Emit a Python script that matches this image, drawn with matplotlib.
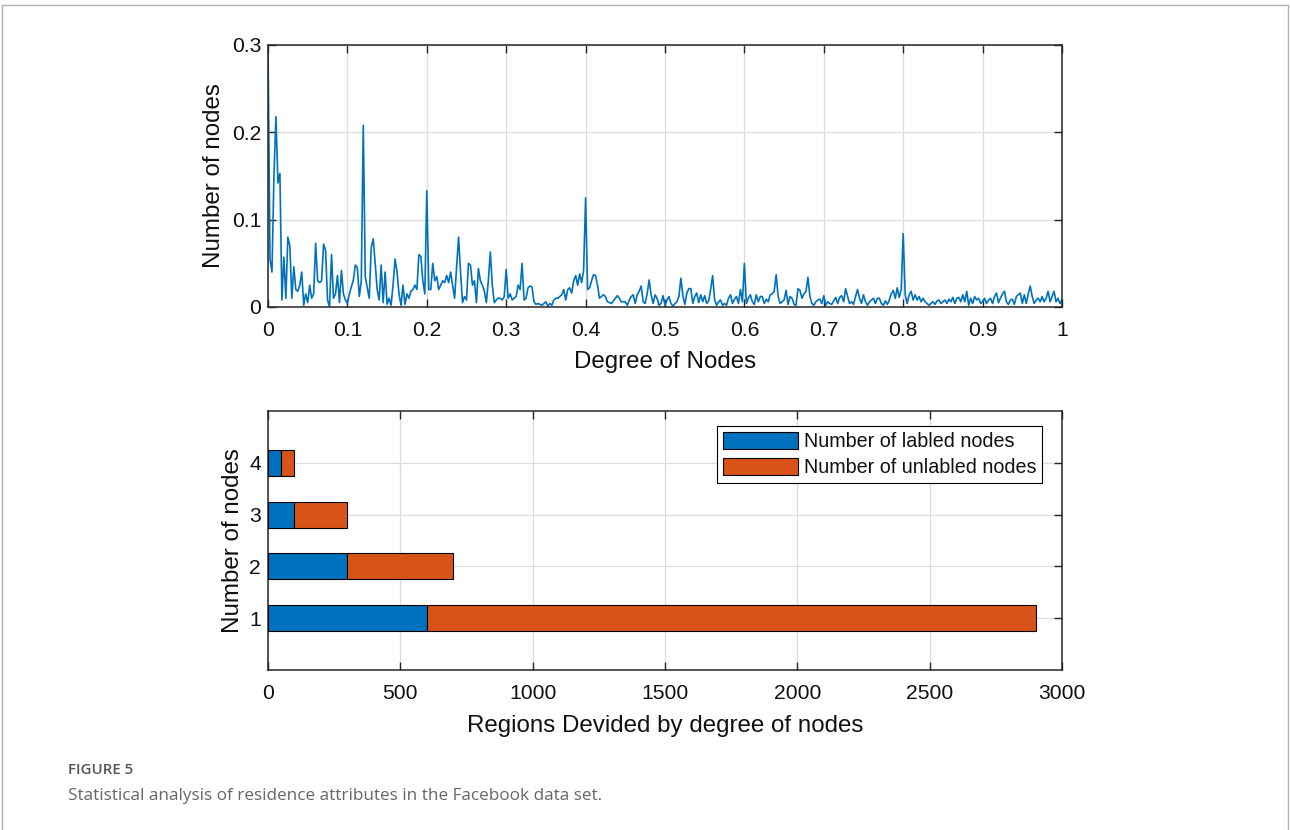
import numpy as np
import matplotlib
matplotlib.use("Agg")
import matplotlib.pyplot as plt
from matplotlib.patches import Rectangle

# ---------------- data ----------------
degree_ticks = [0, 0.1, 0.2, 0.3, 0.4, 0.5, 0.6, 0.7, 0.8, 0.9, 1]
degree_tick_labels = ["0", "0.1", "0.2", "0.3", "0.4", "0.5", "0.6", "0.7", "0.8", "0.9", "1"]
share_ticks = [0, 0.1, 0.2, 0.3]
share_tick_labels = ["0", "0.1", "0.2", "0.3"]

# share of nodes sampled every 0.0025 of degree (0 .. 1)
node_share = [
    0.300, 0.055, 0.040, 0.150, 0.218, 0.142, 0.153, 0.008, 0.057, 0.010, 0.080, 0.070, 0.010, 0.046, 0.020, 0.018, 0.025, 0.040, 0.002, 0.015,
    0.005, 0.025, 0.010, 0.015, 0.073, 0.030, 0.028, 0.030, 0.072, 0.065, 0.008, 0.000, 0.060, 0.010, 0.015, 0.036, 0.005, 0.042, 0.015, 0.008,
    0.004, 0.015, 0.023, 0.031, 0.048, 0.045, 0.012, 0.030, 0.208, 0.035, 0.022, 0.010, 0.068, 0.078, 0.050, 0.020, 0.008, 0.048, 0.005, 0.040,
    0.003, 0.010, 0.002, 0.025, 0.055, 0.040, 0.015, 0.002, 0.025, 0.003, 0.015, 0.010, 0.018, 0.020, 0.025, 0.020, 0.060, 0.058, 0.030, 0.015,
    0.133, 0.020, 0.020, 0.050, 0.030, 0.035, 0.020, 0.025, 0.030, 0.028, 0.036, 0.028, 0.040, 0.025, 0.010, 0.045, 0.080, 0.040, 0.005, 0.012,
    0.008, 0.050, 0.048, 0.025, 0.030, 0.005, 0.044, 0.030, 0.025, 0.018, 0.005, 0.030, 0.063, 0.025, 0.005, 0.008, 0.010, 0.010, 0.008, 0.012,
    0.043, 0.010, 0.015, 0.008, 0.010, 0.012, 0.025, 0.020, 0.050, 0.008, 0.010, 0.022, 0.024, 0.023, 0.006, 0.003, 0.004, 0.003, 0.002, 0.004,
    0.006, 0.001, 0.004, 0.002, 0.008, 0.010, 0.010, 0.012, 0.014, 0.020, 0.008, 0.020, 0.022, 0.016, 0.030, 0.036, 0.025, 0.038, 0.028, 0.042,
    0.125, 0.020, 0.022, 0.030, 0.037, 0.036, 0.025, 0.010, 0.012, 0.014, 0.012, 0.006, 0.005, 0.004, 0.007, 0.010, 0.013, 0.010, 0.006, 0.006,
    0.006, 0.002, 0.008, 0.012, 0.014, 0.004, 0.014, 0.018, 0.024, 0.006, 0.004, 0.015, 0.031, 0.014, 0.004, 0.014, 0.010, 0.002, 0.004, 0.013,
    0.002, 0.008, 0.012, 0.004, 0.001, 0.004, 0.006, 0.012, 0.033, 0.013, 0.003, 0.016, 0.021, 0.021, 0.004, 0.012, 0.016, 0.005, 0.014, 0.006,
    0.013, 0.004, 0.007, 0.020, 0.036, 0.008, 0.002, 0.006, 0.008, 0.002, 0.004, 0.002, 0.010, 0.014, 0.004, 0.009, 0.012, 0.004, 0.020, 0.006,
    0.050, 0.004, 0.010, 0.014, 0.006, 0.003, 0.014, 0.006, 0.012, 0.012, 0.004, 0.009, 0.006, 0.014, 0.015, 0.018, 0.037, 0.012, 0.004, 0.006,
    0.008, 0.019, 0.003, 0.012, 0.010, 0.003, 0.002, 0.021, 0.019, 0.010, 0.015, 0.018, 0.034, 0.012, 0.004, 0.002, 0.006, 0.008, 0.009, 0.004,
    0.013, 0.002, 0.006, 0.004, 0.003, 0.007, 0.011, 0.004, 0.011, 0.013, 0.006, 0.021, 0.012, 0.004, 0.006, 0.003, 0.012, 0.020, 0.010, 0.004,
    0.014, 0.006, 0.002, 0.006, 0.008, 0.010, 0.004, 0.010, 0.010, 0.004, 0.002, 0.007, 0.003, 0.008, 0.015, 0.019, 0.010, 0.022, 0.011, 0.020,
    0.084, 0.014, 0.004, 0.014, 0.018, 0.008, 0.014, 0.008, 0.012, 0.006, 0.010, 0.006, 0.004, 0.002, 0.004, 0.006, 0.003, 0.007, 0.008, 0.004,
    0.006, 0.008, 0.004, 0.009, 0.006, 0.011, 0.004, 0.010, 0.011, 0.006, 0.014, 0.006, 0.018, 0.002, 0.010, 0.004, 0.012, 0.008, 0.010, 0.004,
    0.006, 0.010, 0.004, 0.008, 0.010, 0.004, 0.012, 0.016, 0.005, 0.010, 0.015, 0.018, 0.006, 0.003, 0.008, 0.009, 0.003, 0.012, 0.014, 0.016,
    0.004, 0.014, 0.004, 0.015, 0.024, 0.012, 0.004, 0.008, 0.010, 0.006, 0.012, 0.006, 0.010, 0.018, 0.006, 0.012, 0.018, 0.006, 0.010, 0.004,
    0.008,
]
degree = np.linspace(0, 1, len(node_share))

regions = [1, 2, 3, 4]
labeled_nodes = [600, 300, 100, 50]
unlabeled_nodes = [2300, 400, 200, 50]
region_xticks = [0, 500, 1000, 1500, 2000, 2500, 3000]

# ---------------- style ----------------
BLUE = "#0072BD"
ORANGE = "#D95319"
AXC = "#262626"
TXT = "#111111"
plt.rcParams["font.family"] = ["Liberation Sans", "DejaVu Sans"]

fig = plt.figure(figsize=(12.9, 8.3), dpi=100)
fig.patch.set_facecolor("white")

# outer frame
fig.patches.append(Rectangle((2 / 1290, -0.01), 1286 / 1290, 1 - 5 / 830 + 0.01,
                             transform=fig.transFigure, fill=False,
                             edgecolor="#b0b0b0", linewidth=1.0))


def style_axes(ax):
    for s in ax.spines.values():
        s.set_color(AXC)
        s.set_linewidth(1.1)
    ax.tick_params(direction="in", length=6, width=1.0, color=AXC,
                   top=True, right=True, labelsize=15.2, labelcolor=TXT)
    ax.tick_params(axis="x", pad=10)
    ax.tick_params(axis="y", pad=5)
    ax.grid(True, color="#dcdcdc", linewidth=0.9)
    ax.set_axisbelow(True)


# ---- top: line ----
ax1 = fig.add_axes([268 / 1290, 1 - 307 / 830, 794 / 1290, 262 / 830])
ax1.plot(degree, node_share, color=BLUE, linewidth=1.2, clip_on=True)
ax1.set_xlim(0, 1)
ax1.set_ylim(0, 0.3)
ax1.set_xticks(degree_ticks)
ax1.set_xticklabels(degree_tick_labels)
ax1.set_yticks(share_ticks)
ax1.set_yticklabels(share_tick_labels)
style_axes(ax1)
ax1.set_xlabel("Degree of Nodes", fontsize=17.4, color=TXT, labelpad=8)
ax1.set_ylabel("Number of nodes", fontsize=17.4, color=TXT, labelpad=5)

# ---- bottom: stacked horizontal bars ----
ax2 = fig.add_axes([268 / 1290, 1 - 670 / 830, 794 / 1290, 259 / 830])
ax2.barh(regions, labeled_nodes, height=0.5, color=BLUE, edgecolor="black",
         linewidth=0.8, label="Number of labled nodes", zorder=3)
ax2.barh(regions, unlabeled_nodes, left=labeled_nodes, height=0.5, color=ORANGE,
         edgecolor="black", linewidth=0.8, label="Number of unlabled nodes", zorder=3)
ax2.set_xlim(0, 3000)
ax2.set_ylim(0, 5)
ax2.set_xticks(region_xticks)
ax2.set_yticks(regions)
style_axes(ax2)
ax2.set_xlabel("Regions Devided by degree of nodes", fontsize=17.4, color=TXT, labelpad=9)
ax2.set_ylabel("Number of nodes", fontsize=17.4, color=TXT, labelpad=4)
leg = ax2.legend(loc="upper right", fontsize=14.2, handlelength=3.8, handleheight=0.95,
                 bbox_to_anchor=(1 - 20 / 794, 1 - 15 / 259), borderaxespad=0.0,
                 fancybox=False, framealpha=1, edgecolor="black",
                 borderpad=0.3, labelspacing=0.35, handletextpad=0.3)
leg.get_frame().set_linewidth(0.8)
for t in leg.get_texts():
    t.set_color(TXT)

# ---- caption ----
fig.text(68 / 1290, 1 - 770 / 830, "FIGURE 5", fontsize=10.8, color="#555555",
         family=["Open Sans", "DejaVu Sans"], fontweight="semibold", va="center", ha="left")
fig.text(68 / 1290, 1 - 796 / 830,
         "Statistical analysis of residence attributes in the Facebook data set.",
         fontsize=12.3, color="#666666", family=["Open Sans", "DejaVu Sans"],
         va="center", ha="left")

fig.savefig("out.png", dpi=100)
